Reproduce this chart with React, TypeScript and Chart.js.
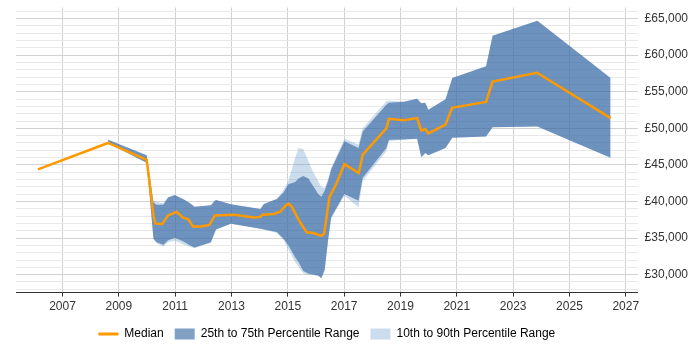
import React, { useEffect, useRef } from "react";
import { Chart, registerables } from "chart.js";

Chart.register(...registerables);

// Median salary series
const medianYears = [2006.13, 2008.62, 2009.99, 2010.23, 2010.29, 2010.54, 2010.75, 2011.05, 2011.28, 2011.46, 2011.63, 2011.92, 2012.22, 2012.41, 2013.09, 2013.80, 2014.03, 2014.09, 2014.50, 2014.73, 2014.91, 2015.02, 2015.14, 2015.43, 2015.67, 2015.90, 2016.19, 2016.29, 2016.48, 2016.72, 2017.01, 2017.52, 2017.66, 2018.50, 2018.59, 2019.12, 2019.59, 2019.74, 2019.88, 2019.99, 2020.60, 2020.83, 2022.04, 2022.27, 2023.85, 2026.46];
const medianValues = [44400, 48000, 45700, 38100, 37000, 36900, 38100, 38600, 37800, 37600, 36600, 36600, 36800, 38100, 38200, 37800, 37900, 38200, 38300, 38600, 39400, 39700, 39300, 37200, 35800, 35700, 35300, 35600, 40600, 42400, 45100, 43900, 46400, 50000, 51300, 51100, 51400, 49700, 49900, 49300, 50500, 52800, 53600, 56400, 57600, 51400];

// Percentile bands
const bandYears = [2008.62, 2009.99, 2010.23, 2010.34, 2010.58, 2010.75, 2010.99, 2011.28, 2011.52, 2011.69, 2012.27, 2012.39, 2012.45, 2012.98, 2014.03, 2014.15, 2014.61, 2014.85, 2015.02, 2015.26, 2015.38, 2015.55, 2015.73, 2015.90, 2016.08, 2016.19, 2016.31, 2016.43, 2016.54, 2017.01, 2017.51, 2017.66, 2018.50, 2018.59, 2019.12, 2019.59, 2019.74, 2019.88, 2019.99, 2020.60, 2020.84, 2022.04, 2022.27, 2023.86, 2026.46];
const p90Values = [48450, 46330, 40100, 39970, 39770, 40580, 40880, 40340, 39790, 39290, 39500, 40040, 40200, 39630, 38980, 39660, 40340, 41590, 42810, 45960, 47320, 47140, 45520, 44030, 42810, 42000, 41860, 43080, 44610, 48590, 47780, 50020, 53700, 53770, 53630, 54040, 53430, 53500, 52550, 53970, 56880, 58470, 62660, 64690, 56880];
const p75Values = [48450, 46330, 39880, 39560, 39560, 40550, 40880, 40340, 39790, 39290, 39500, 40040, 40200, 39630, 38980, 39660, 40340, 41230, 42360, 42680, 43150, 43490, 43150, 42130, 41010, 40650, 41460, 42810, 44390, 48220, 47320, 49580, 53230, 53500, 53630, 54040, 53430, 53500, 52550, 53970, 56880, 58470, 62660, 64690, 56880];
const p25Values = [47990, 45290, 34960, 34420, 34080, 34690, 35030, 34560, 34020, 33700, 34420, 35600, 36180, 36950, 36280, 36180, 35820, 34920, 34020, 32390, 31720, 30500, 30160, 30030, 29890, 29510, 30630, 34690, 37850, 41010, 40100, 43260, 47320, 48450, 48490, 48560, 46060, 46640, 46330, 47320, 48700, 48900, 50160, 50250, 45990];
const p10Values = [47950, 45250, 34830, 34290, 33810, 34420, 34630, 34150, 33810, 33610, 34350, 35600, 36180, 36950, 36280, 36180, 35710, 34690, 33480, 31720, 31080, 30190, 29960, 29960, 29820, 29510, 30630, 34690, 37670, 40780, 39200, 42810, 46870, 48220, 48490, 48560, 46060, 46640, 46330, 47320, 48700, 48900, 50160, 50250, 45990];

// Axis ticks
const xTickYears = [2007, 2009, 2011, 2013, 2015, 2017, 2019, 2021, 2023, 2025, 2027];
const yTickValues = Array.from({ length: 39 }, (_, i) => 28000 + i * 1000);

const legendLabels = ["Median", "25th to 75th Percentile Range", "10th to 90th Percentile Range"];

const ORANGE = "#ff9900";
const DARK = "rgba(47,97,157,0.6)";
const LIGHT = "rgba(115,160,205,0.37)";
const FONT = "'Liberation Sans', Arial, sans-serif";

const pts = (xs: number[], ys: number[]) => xs.map((x, i) => ({ x, y: ys[i] }));
const isMajor = (v: number) => v % 5000 === 0;

export default function App() {
  const ref = useRef<HTMLCanvasElement | null>(null);

  useEffect(() => {
    if (!ref.current) return;
    const band = { pointRadius: 0, borderWidth: 0, borderColor: "transparent", tension: 0 };
    const chart = new Chart(ref.current, {
      type: "line",
      data: {
        datasets: [
          {
            label: legendLabels[0],
            data: pts(medianYears, medianValues),
            borderColor: ORANGE,
            backgroundColor: ORANGE,
            borderWidth: 2.5,
            pointRadius: 0,
            tension: 0,
            fill: false,
            order: 0,
          },
          { label: "p75", data: pts(bandYears, p75Values), ...band, backgroundColor: DARK, fill: 2, order: 1 },
          { label: "p25", data: pts(bandYears, p25Values), ...band, fill: false, order: 2 },
          { label: "p90", data: pts(bandYears, p90Values), ...band, backgroundColor: LIGHT, fill: 4, order: 3 },
          { label: "p10", data: pts(bandYears, p10Values), ...band, fill: false, order: 4 },
        ],
      },
      options: {
        animation: false,
        responsive: false,
        devicePixelRatio: 1,
        layout: { padding: { left: 16, right: 5, top: 4, bottom: 0 } },
        plugins: {
          tooltip: { enabled: false },
          legend: {
            position: "bottom",
            fullSize: false,
            labels: {
              usePointStyle: true,
              pointStyleWidth: 20,
              boxHeight: 11,
              padding: 11,
              color: "#333",
              font: { family: FONT, size: 12 },
              generateLabels: () => [
                { text: legendLabels[0], pointStyle: "line", strokeStyle: ORANGE, fillStyle: ORANGE, lineWidth: 3, hidden: false, datasetIndex: 0 },
                { text: legendLabels[1], pointStyle: "rect", strokeStyle: "transparent", fillStyle: DARK, lineWidth: 0, hidden: false, datasetIndex: 1 },
                { text: legendLabels[2], pointStyle: "rect", strokeStyle: "transparent", fillStyle: LIGHT, lineWidth: 0, hidden: false, datasetIndex: 3 },
              ],
            },
          },
        },
        scales: {
          x: {
            type: "linear",
            min: 2005.35,
            max: 2027.42,
            afterBuildTicks: (axis: any) => {
              axis.ticks = xTickYears.map((v) => ({ value: v }));
            },
            ticks: {
              color: "#333",
              font: { family: FONT, size: 12 },
              padding: 3,
              maxRotation: 0,
              autoSkip: false,
              callback: (v: any) => String(v),
            },
            grid: { color: "#d2d2d2", tickColor: "#333", tickLength: 4, drawTicks: true },
            border: { color: "#333", width: 1 },
          },
          y: {
            type: "linear",
            position: "right",
            min: 27550,
            max: 66500,
            afterBuildTicks: (axis: any) => {
              axis.ticks = yTickValues.map((v) => ({ value: v }));
            },
            ticks: {
              color: "#333",
              font: (c: any) => ({ family: FONT, size: c.tick && isMajor(c.tick.value) ? 12 : 1 }),
              padding: 7,
              autoSkip: false,
              callback: (v: any) => (isMajor(Number(v)) ? "£" + Number(v).toLocaleString("en-GB") : ""),
            },
            grid: {
              drawTicks: false,
              color: (c: any) => (c.tick && isMajor(c.tick.value) ? "#d2d2d2" : "#e8e8e8"),
            },
            border: { display: false },
          },
        },
      },
    } as any);
    return () => chart.destroy();
  }, []);

  return (
    <div style={{ position: "absolute", left: 0, top: 0, width: 700, height: 350, background: "#fff" }}>
      <canvas ref={ref} width={700} height={350} style={{ width: 700, height: 350, display: "block" }} />
    </div>
  );
}
